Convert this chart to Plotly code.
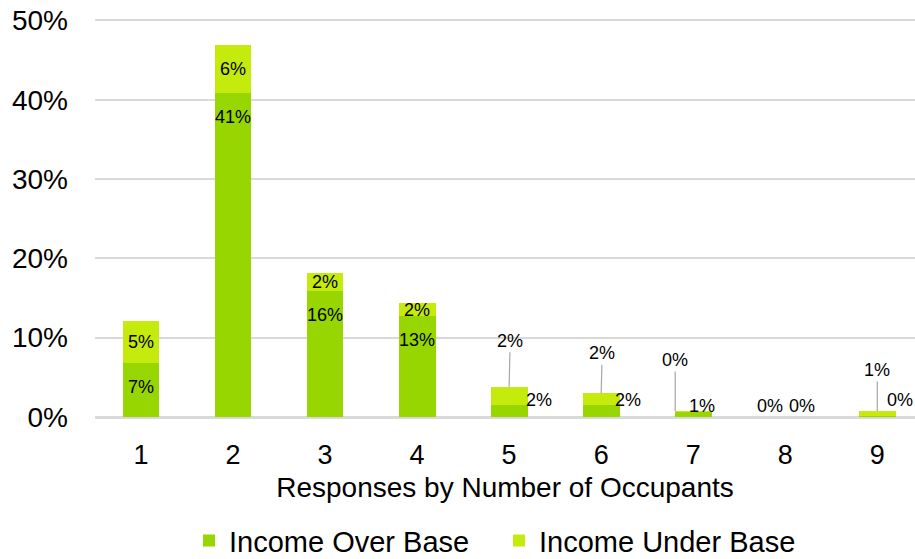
import plotly.graph_objects as go

# ---- data ----
categories = [1, 2, 3, 4, 5, 6, 7, 8, 9]
tick_labels = ["1", "2", "3", "4", "5", "6", "7", "8", "9"]
y_tick_values = [0, 10, 20, 30, 40, 50]
y_tick_labels = ["0%", "10%", "20%", "30%", "40%", "50%"]
income_over = [6.8, 40.8, 15.9, 12.7, 1.5, 1.5, 0.7, 0.0, 0.1]
income_under = [5.3, 6.1, 2.2, 1.7, 2.3, 1.5, 0.05, 0.0, 0.65]
over_labels = ["7%", "41%", "16%", "13%", "2%", "2%", "1%", "0%", "0%"]
under_labels = ["5%", "6%", "2%", "2%", "2%", "2%", "0%", "0%", "1%"]

# ---- label placement styles (pixel offsets, Excel-like manual placement) ----
# over-series labels outside the bar: (xshift, yshift above baseline)
over_out = {5: (30, 17), 6: (27, 17), 7: (9, 11), 8: (17, 11), 9: (23, 17)}
# under-series labels with leader lines: (tip xshift, ax, ay) ; None -> plain label
under_out = {5: (0, 1, -46), 6: (0, 1, -40), 7: (-18, 0, -51), 8: None, 9: (0, 0, -41)}
under_plain = {8: (-15, 11)}

C_OVER = "#97D600"
C_UNDER = "#C5EB0C"
FONT = "Liberation Sans, Arial, sans-serif"

fig = go.Figure()
fig.add_trace(go.Bar(x=categories, y=income_over, name="Income Over Base",
                     marker=dict(color=C_OVER, line=dict(width=0)), width=0.4))
fig.add_trace(go.Bar(x=categories, y=income_under, name="Income Under Base",
                     marker=dict(color=C_UNDER, line=dict(width=0)), width=0.4))

ann = []
lab_font = dict(family=FONT, size=18, color="#000000")
for c, o, u, lo, lu in zip(categories, income_over, income_under, over_labels, under_labels):
    if c not in over_out:
        ann.append(dict(x=c, y=o, text=lo, showarrow=False, yanchor="middle",
                        yshift=-24, font=lab_font))
        ann.append(dict(x=c, y=o + u / 2, text=lu, showarrow=False, yanchor="middle",
                        font=lab_font))
    else:
        xs, ys = over_out[c]
        ann.append(dict(x=c, y=0, text=lo, showarrow=False, yanchor="middle",
                        xshift=xs, yshift=ys, font=lab_font))
        spec = under_out[c]
        if spec is None:
            xs2, ys2 = under_plain[c]
            ann.append(dict(x=c, y=0, text=lu, showarrow=False, yanchor="middle",
                            xshift=xs2, yshift=ys2, font=lab_font))
        else:
            txs, ax, ay = spec
            ann.append(dict(x=c, y=o + u, text=lu, showarrow=True, arrowhead=0,
                            arrowwidth=1.2, arrowcolor="#a6a6a6", ax=ax, ay=ay,
                            standoff=0, startstandoff=0, xshift=txs, font=lab_font))

fig.update_layout(
    barmode="stack",
    width=915, height=559,
    margin=dict(l=95, r=0, t=18, b=142, autoexpand=False),
    plot_bgcolor="white", paper_bgcolor="white",
    font=dict(family=FONT, size=28, color="#000000"),
    annotations=ann,
    showlegend=True,
    legend=dict(orientation="h", x=0.4927, xanchor="center", xref="paper",
                y=-0.31, yref="paper", yanchor="middle",
                font=dict(size=29), itemwidth=30, entrywidth=265,
                traceorder="normal"),
)
fig.update_xaxes(range=[0.5, 9.41], tickvals=categories, ticktext=tick_labels,
                 showgrid=False, showline=True, linecolor="#d9d9d9", linewidth=2,
                 ticks="", ticklabelstandoff=13, tickfont=dict(size=27),
                 automargin=False,
                 title=dict(text="Responses by Number of Occupants", standoff=8,
                            font=dict(size=28)))
fig.update_yaxes(range=[0, 50.3], tickmode="array", tickvals=y_tick_values,
                 ticktext=y_tick_labels, showgrid=True, ticklabeloverflow="allow",
                 gridcolor="#d9d9d9", gridwidth=2, zeroline=True,
                 zerolinecolor="#d9d9d9", zerolinewidth=2, ticks="",
                 automargin=False,
                 ticklabelstandoff=26, tickfont=dict(size=28))

fig.write_html(
    "out.html",
    config={"displayModeBar": False},
    post_script="document.body.style.margin='0';document.body.style.overflow='hidden';",
)
